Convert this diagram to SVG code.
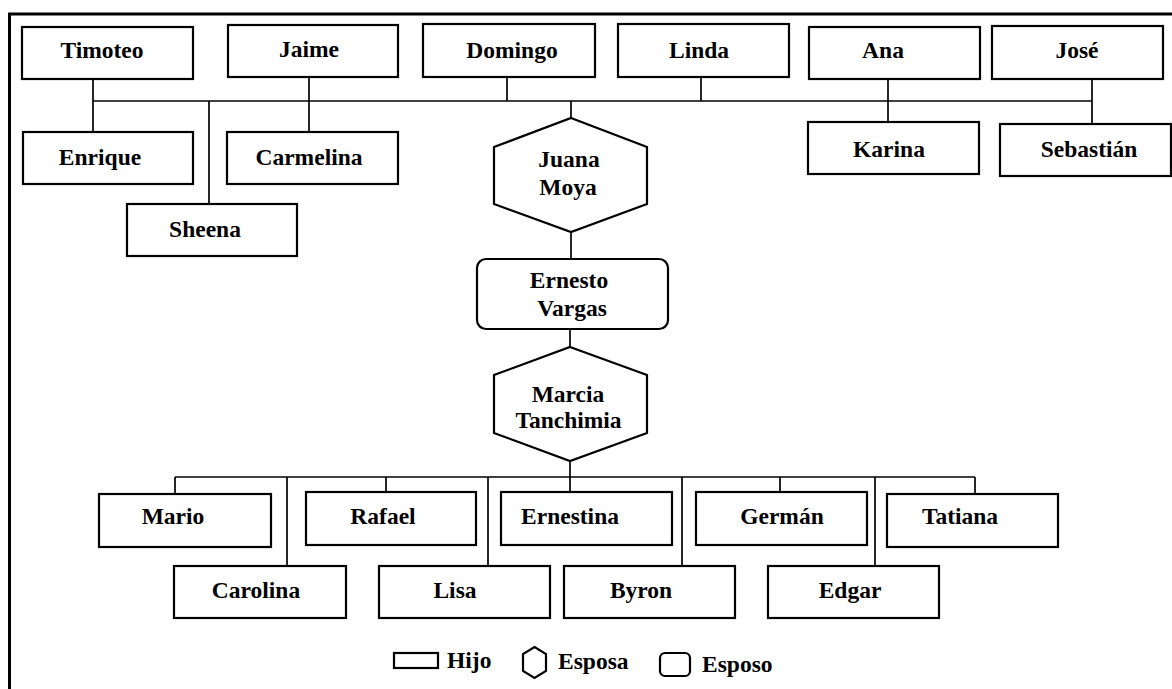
<svg xmlns="http://www.w3.org/2000/svg" width="1172" height="689" viewBox="0 0 1172 689">
<style>
.b{fill:#fff;stroke:#000;stroke-width:2.2}
.c{fill:none;stroke:#000;stroke-width:1.7}
.t text{font-weight:bold;font-size:23.5px;fill:#000;text-anchor:middle}
.t text.l{text-anchor:start}
</style>
<rect width="1172" height="689" fill="#fff"/>
<path d="M9.5 689V14H1172" fill="none" stroke="#000" stroke-width="3"/>
<g id="connectors" class="c">
<path d="M93 101H1092"/>
<path d="M93 79V132"/>
<path d="M309 77V132"/>
<path d="M209 101V204"/>
<path d="M507 77V101"/>
<path d="M701 77V101"/>
<path d="M571 101V118"/>
<path d="M888 79V122"/>
<path d="M1092 79V124"/>
<path d="M571 232V259"/>
<path d="M570 329V347"/>
<path d="M570 461V492"/>
<path d="M175 477H975"/>
<path d="M175 477V494"/>
<path d="M287 477V566"/>
<path d="M386 477V492"/>
<path d="M488 477V566"/>
<path d="M682 477V566"/>
<path d="M780 477V492"/>
<path d="M875 477V566"/>
<path d="M975 477V494"/>
</g>
<g class="t" font-family="'Liberation Serif', 'Times New Roman', Times, serif">
<g id="timoteo"><rect class="b" x="22" y="27" width="171" height="52"/><text x="102" y="58">Timoteo</text></g>
<g id="jaime"><rect class="b" x="228" y="25" width="170" height="52"/><text x="309" y="57">Jaime</text></g>
<g id="domingo"><rect class="b" x="423" y="24" width="172" height="53"/><text x="512" y="58">Domingo</text></g>
<g id="linda"><rect class="b" x="618" y="24" width="171" height="53"/><text x="699" y="58">Linda</text></g>
<g id="ana"><rect class="b" x="809" y="27" width="171" height="52"/><text x="883" y="58">Ana</text></g>
<g id="jose"><rect class="b" x="992" y="26" width="171" height="53"/><text x="1077" y="58">José</text></g>
<g id="enrique"><rect class="b" x="23" y="132" width="170" height="52"/><text x="100" y="165">Enrique</text></g>
<g id="carmelina"><rect class="b" x="227" y="132" width="171" height="52"/><text x="309" y="165">Carmelina</text></g>
<g id="sheena"><rect class="b" x="127" y="204" width="170" height="52"/><text x="205" y="237">Sheena</text></g>
<g id="karina"><rect class="b" x="808" y="122" width="171" height="52"/><text x="889" y="157">Karina</text></g>
<g id="sebastian"><rect class="b" x="1000" y="124" width="171" height="52"/><text x="1089" y="157">Sebastián</text></g>
<g id="juana"><polygon class="b" points="571,118 647,147 647,204 571,232 494,204 494,147"/><text x="569" y="167">Juana</text><text x="568" y="195">Moya</text></g>
<g id="ernesto"><rect class="b" x="477" y="259" width="191" height="70" rx="9"/><text x="569" y="288">Ernesto</text><text x="572" y="316">Vargas</text></g>
<g id="marcia"><polygon class="b" points="570,347 647,375 647,433 570,461 494,433 494,375"/><text x="568" y="402">Marcia</text><text x="568.5" y="428">Tanchimia</text></g>
<g id="mario"><rect class="b" x="99" y="494" width="172" height="53"/><text x="173" y="524">Mario</text></g>
<g id="rafael"><rect class="b" x="306" y="492" width="170" height="53"/><text x="383" y="524">Rafael</text></g>
<g id="ernestina"><rect class="b" x="501" y="492" width="171" height="53"/><text x="570" y="524">Ernestina</text></g>
<g id="german"><rect class="b" x="696" y="492" width="171" height="53"/><text x="782" y="524">Germán</text></g>
<g id="tatiana"><rect class="b" x="887" y="494" width="171" height="53"/><text x="960" y="524">Tatiana</text></g>
<g id="carolina"><rect class="b" x="174" y="566" width="172" height="52"/><text x="256" y="598">Carolina</text></g>
<g id="lisa"><rect class="b" x="379" y="566" width="171" height="52"/><text x="455" y="598">Lisa</text></g>
<g id="byron"><rect class="b" x="564" y="566" width="171" height="52"/><text x="641" y="598">Byron</text></g>
<g id="edgar"><rect class="b" x="768" y="566" width="171" height="52"/><text x="850" y="598">Edgar</text></g>
<g id="legend">
<rect class="b" x="394" y="653" width="44" height="15"/><text class="l" x="447" y="668">Hijo</text>
<polygon class="b" points="534.5,647 546,654 546,671 534.5,678 523,671 523,654"/><text class="l" x="558" y="669">Esposa</text>
<rect class="b" x="660" y="653" width="30" height="23" rx="5"/><text class="l" x="702" y="672">Esposo</text>
</g>
</g>
</svg>
